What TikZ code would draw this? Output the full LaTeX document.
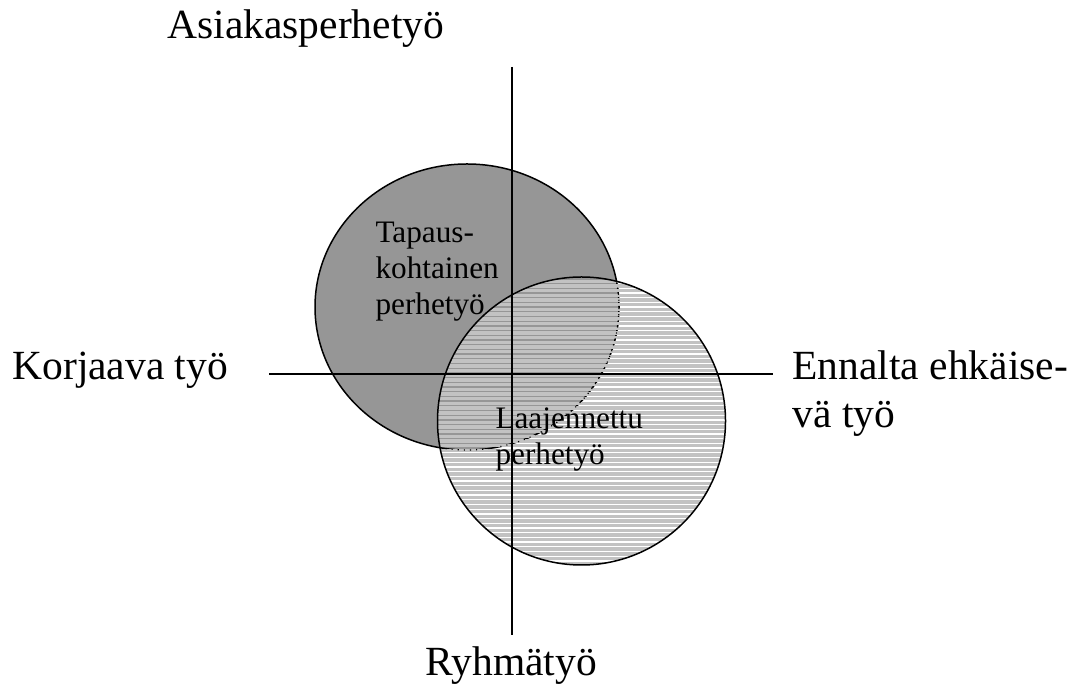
\documentclass[tikz,border=0pt]{standalone}
\usepackage{fontspec}
\setmainfont{Liberation Serif}
\usetikzlibrary{calc}

\definecolor{darkfill}{gray}{0.59}
\definecolor{stripefill}{gray}{0.76}

\begin{document}
\begin{tikzpicture}[
    x=0.4pt, y=0.4pt, % one unit is one pixel of the reference
    axis/.style={-, line width=0.8pt, black}, % Style for the two axes
    outline/.style={line width=0.6pt, black}, % Style for the circle borders
    hidden outline/.style={line width=0.45pt, black, dotted}, % Border seen through the stripes
    stripe/.style={line width=1.36pt, stripefill}, % Style for one stripe of the light circle
    axislabel/.style={font=\fontsize{16.6}{19.2}\selectfont, inner sep=0pt, align=left}, % Axis end texts
    arealabel/.style={font=\fontsize{12.5}{14.4}\selectfont, inner sep=0pt, align=left} % Texts inside the circles
  ]
  \useasboundingbox (0,0) rectangle (1077,685);

  % --- Coordinates ---
  \coordinate (case_c) at (467,378); % Centre of the dark circle
  \coordinate (wide_c) at (581.5,264); % Centre of the light circle
  \def\caserx{152} % Horizontal radius of the dark circle
  \def\casery{143} % Vertical radius of the dark circle
  \def\wider{144} % Radius of the light circle

  % --- Dark circle (Tapauskohtainen perhetyö) ---
  \fill[darkfill] (case_c) ellipse ({\caserx} and {\casery});
  \draw[outline] (case_c) ellipse ({\caserx} and {\casery});

  % --- Light striped circle (Laajennettu perhetyö) ---
  \begin{scope}
    \clip (wide_c) circle (\wider);
    \foreach \k in {0,...,62} {
        \draw[stripe] ($(wide_c)+(-\wider,{-\wider+1.7+\k*4.7})$) -- ++(2*\wider,0);
    }
    \draw[hidden outline] (case_c) ellipse ({\caserx} and {\casery}); % Dark border under the stripes
  \end{scope}
  \draw[outline] (wide_c) circle (\wider);

  % --- Axes ---
  \coordinate (ax_top) at (512,618);
  \coordinate (ax_bottom) at (512,50);
  \coordinate (ax_left) at (269,311);
  \coordinate (ax_right) at (773,311);
  \draw[axis] (ax_top) -- (ax_bottom); % Vertical axis
  \draw[axis] (ax_left) -- (ax_right); % Horizontal axis

  % --- Axis labels (base = baseline of the last line) ---
  \node[axislabel, anchor=base west] (client) at (167,646) {Asiakasperhetyö};
  \node[axislabel, anchor=base west] (group) at (425,10) {Ryhmätyö};
  \node[axislabel, anchor=base west] (corrective) at (12,305) {Korjaava työ};
  \node[axislabel, anchor=base west] (preventive) at (792,257) {Ennalta ehkäise-\\vä työ};

  % --- Circle labels ---
  \node[arealabel, anchor=base west] (case_label) at (375,370) {Tapaus-\\kohtainen\\perhetyö};
  \node[arealabel, anchor=base west] (wide_label) at (495,220) {Laajennettu\\perhetyö};

\end{tikzpicture}
\end{document}
